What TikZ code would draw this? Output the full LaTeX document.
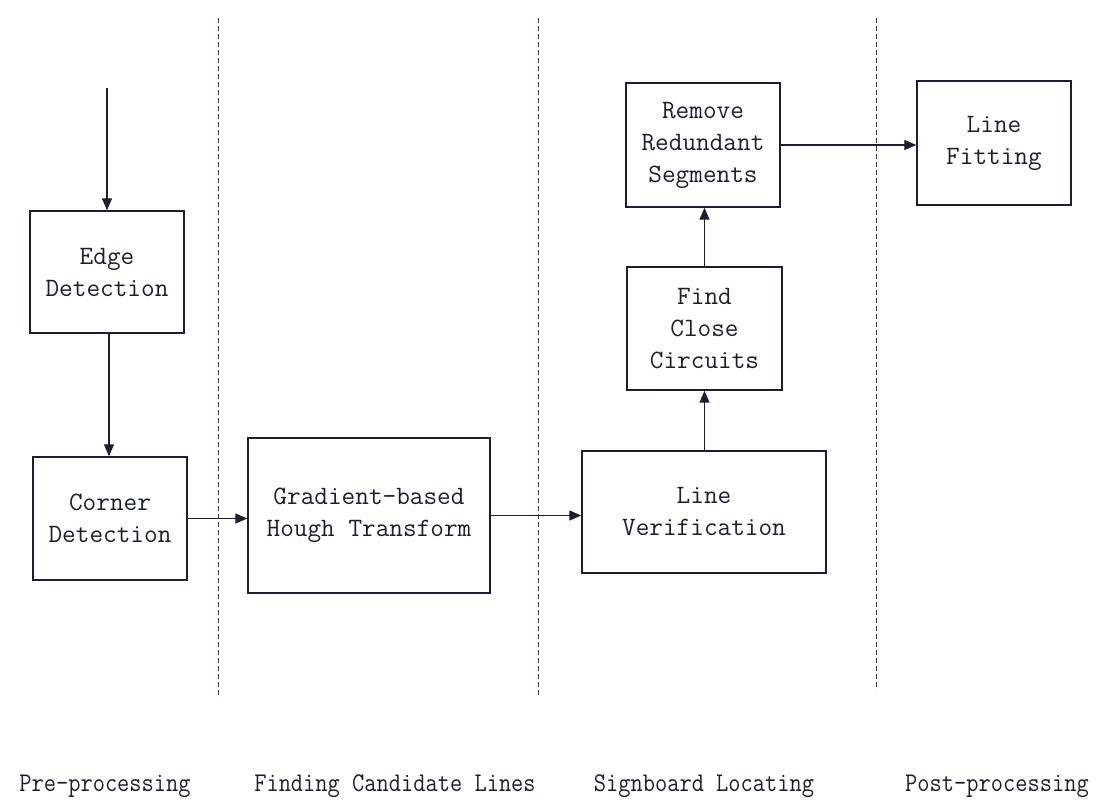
\documentclass[tikz,border=0pt]{standalone}
\usepackage{fontspec}
\usepackage{graphicx}
\usetikzlibrary{arrows.meta}
\definecolor{ink}{RGB}{30,30,50}
\definecolor{dashink}{RGB}{55,55,85}
\tikzset{
  box/.style={draw=ink, line width=1.4pt, align=center, inner sep=0pt,
    font=\fontsize{26.5}{32}\selectfont\ttfamily, text=ink},
  flow/.style={draw=ink, line width=1.3pt, -{Triangle[length=12pt,width=10pt]}},
  sep/.style={draw=dashink, line width=1pt, dash pattern=on 5pt off 3pt},
  lab/.style={font=\fontsize{27}{30}\selectfont\ttfamily, text=ink, inner sep=0pt}
}
\begin{document}
\begin{tikzpicture}[x=1pt,y=-1pt]
\useasboundingbox (0,0) rectangle (1113,803);
\fill[white] (0,0) rectangle (1113,803);
% separators
\draw[sep] (218,18) -- (218,698);
\draw[sep] (538,18) -- (538,695);
\draw[sep] (876,18) -- (876,690);
% nodes
\node[box, minimum width=154pt, minimum height=122pt] (edge) at (107,272) {Edge\\Detection};
\node[box, minimum width=154pt, minimum height=123pt] (corner) at (110,518.5) {Corner\\Detection};
\node[box, minimum width=242pt, minimum height=155pt] (grad) at (369,515.5) {Gradient-based\\Hough Transform};
\node[box, minimum width=244pt, minimum height=122pt] (ver) at (704,512) {Line\\Verification};
\node[box, minimum width=155pt, minimum height=123pt] (find) at (704.5,328.5) {Find\\Close\\Circuits};
\node[box, minimum width=154pt, minimum height=124pt] (remove) at (703,145) {Remove\\Redundant\\Segments};
\node[box, minimum width=154pt, minimum height=124pt] (fit) at (994,143) {Line\\Fitting};
\coordinate (in) at (107,88);
% connectors
\draw[flow] (in) -- (edge.north);
\draw[flow] ([xshift=2pt]edge.south) -- ([xshift=2pt]edge.south |- corner.north);
\draw[flow] (corner.east) -- (grad.west |- corner.east);
\draw[flow] (grad.east) -- (ver.west |- grad.east);
\draw[flow] (find.south |- ver.north) -- (find.south);
\draw[flow] (find.north) -- (find.north |- remove.south);
\draw[flow] (remove.east) -- (fit.west |- remove.east);
% stage labels
\node[lab] (l1) at (105,786) {\scalebox{0.88}[1]{Pre-processing}};
\node[lab] (l2) at (395,786) {\scalebox{0.88}[1]{Finding Candidate Lines}};
\node[lab] (l3) at (704,786) {\scalebox{0.88}[1]{Signboard Locating}};
\node[lab] (l4) at (997,786) {\scalebox{0.88}[1]{Post-processing}};
\end{tikzpicture}
\end{document}
